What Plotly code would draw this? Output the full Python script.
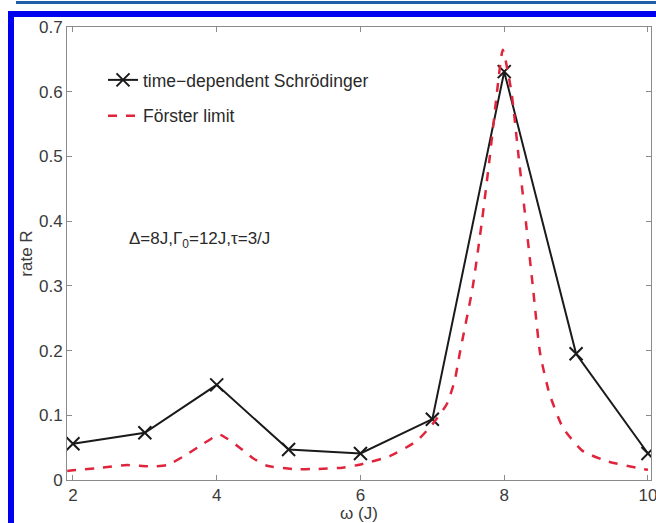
import plotly.graph_objects as go

# Data
omega_tds = [2, 3, 4, 5, 6, 7, 8, 9, 10]
rate_tds = [0.056, 0.073, 0.147, 0.047, 0.041, 0.094, 0.631, 0.195, 0.041]

omega_forster = [1.92, 2.0, 2.4, 2.75, 3.07, 3.31, 3.59, 3.8, 4.04, 4.32, 4.5, 4.7,
                 5.06, 5.4, 5.75, 6.0, 6.41, 6.78, 7.0, 7.2, 7.31, 7.38, 7.56, 7.69,
                 7.8, 7.9, 7.98, 8.1, 8.2, 8.3, 8.4, 8.5, 8.63, 8.82, 9.09, 9.43, 9.93, 10.0]
rate_forster = [0.014, 0.015, 0.019, 0.023, 0.021, 0.023, 0.040, 0.055, 0.070, 0.050, 0.034, 0.022,
                0.017, 0.017, 0.019, 0.024, 0.037, 0.060, 0.086, 0.117, 0.153, 0.195, 0.297, 0.40,
                0.50, 0.60, 0.665, 0.60, 0.50, 0.40, 0.297, 0.195, 0.133, 0.080, 0.045, 0.029, 0.017, 0.016]

x_ticks = [2, 4, 6, 8, 10]
y_ticks = [0, 0.1, 0.2, 0.3, 0.4, 0.5, 0.6, 0.7]
y_tick_labels = ["0", "0.1", "0.2", "0.3", "0.4", "0.5", "0.6", "0.7"]

W, H = 656, 523
L, R, T, B = 67, 651, 27, 480

def px(x):
    return (x - L) / (R - L)

def py(y):
    return (B - y) / (B - T)

FONT = "Liberation Sans, Arial, sans-serif"

fig = go.Figure()
fig.add_trace(go.Scatter(
    x=omega_tds, y=rate_tds, mode="lines+markers",
    name="time\u2212dependent Schrödinger", legendgroup="a",
    line=dict(color="#1a1a1a", width=2),
    marker=dict(symbol="x-thin", size=13, line=dict(width=2, color="#1a1a1a"), color="#1a1a1a"),
))
fig.add_trace(go.Scatter(
    x=omega_forster, y=rate_forster, mode="lines",
    name="Förster limit", legendgroup="b",
    line=dict(color="#e0243c", width=2.5, dash="dash", shape="spline", smoothing=0.5),
))

axis_common = dict(
    showgrid=False, zeroline=False, showline=True, linecolor="#8a8a8a", linewidth=1,
    mirror="allticks", ticks="inside", ticklen=5, tickcolor="#8a8a8a", tickwidth=1,
    tickfont=dict(family=FONT, size=17, color="#3a3a3a"),
    ticklabeloverflow="allow", automargin=False,
)

fig.update_xaxes(range=[1.917, 10.042], tickvals=x_ticks, ticktext=[str(v) for v in x_ticks],
                 title=dict(text="ω (J)", font=dict(family=FONT, size=17, color="#3a3a3a"), standoff=0),
                 **axis_common)
fig.update_yaxes(range=[0, 0.7], tickvals=y_ticks, ticktext=y_tick_labels,
                 title=dict(text="rate R", font=dict(family=FONT, size=17, color="#3a3a3a"), standoff=2),
                 **axis_common)

shapes = [
    # thin top line
    dict(type="rect", xref="paper", yref="paper", x0=px(16), x1=px(660), y0=py(4), y1=py(1),
         fillcolor="#1f5fa8", line=dict(width=0), layer="above"),
    # thick top band
    dict(type="rect", xref="paper", yref="paper", x0=px(8), x1=px(660), y0=py(17), y1=py(11),
         fillcolor="#0000f0", line=dict(width=0), layer="above"),
    # thick left band
    dict(type="rect", xref="paper", yref="paper", x0=px(8), x1=px(14), y0=py(530), y1=py(11),
         fillcolor="#0000f0", line=dict(width=0), layer="above"),
]

fig.update_layout(
    width=W, height=H,
    margin=dict(l=L, r=W - R, t=T, b=H - B, pad=0, autoexpand=False),
    paper_bgcolor="white", plot_bgcolor="white",
    font=dict(family=FONT, size=15, color="#3a3a3a"),
    showlegend=True,
    legend=dict(x=px(103), y=py(62), xanchor="left", yanchor="top",
                bgcolor="rgba(0,0,0,0)", borderwidth=0,
                font=dict(family=FONT, size=17.5, color="#2a2a2a"),
                tracegroupgap=10, itemwidth=30),
    shapes=shapes,
    annotations=[dict(
        x=px(127), y=py(240), xref="paper", yref="paper", xanchor="left", yanchor="middle",
        text="Δ=8J,Γ<sub>0</sub>=12J,τ=3/J", showarrow=False,
        font=dict(family=FONT, size=17, color="#2a2a2a"),
    )],
)

fig.write_html("out.html")
